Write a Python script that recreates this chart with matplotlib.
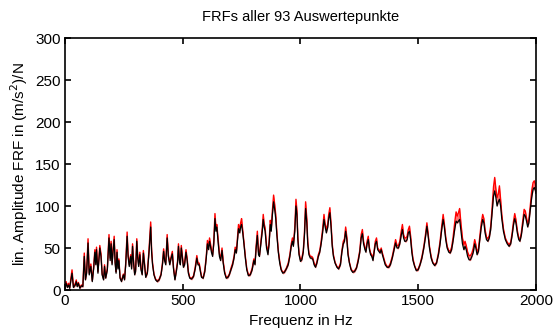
import numpy as np
import matplotlib
matplotlib.use("Agg")
import matplotlib.pyplot as plt

# Frequency points (Hz)
freq = [
    0, 5, 10, 15, 20, 30, 36, 44, 48, 52, 57, 63, 70, 76, 82, 87, 92, 98, 103, 110,
    116, 122, 127, 131, 134, 140, 148, 153, 158, 164, 168, 173, 180, 187, 192, 196, 200, 204, 209, 213,
    217, 221, 225, 229, 234, 240, 248, 253, 258, 264, 268, 273, 279, 283, 287, 292, 296, 300, 305, 309,
    313, 318, 323, 328, 333, 338, 343, 350, 357, 364, 368, 372, 378, 385, 392, 400, 408, 414, 419, 423,
    428, 434, 439, 445, 451, 456, 461, 467, 473, 478, 482, 486, 490, 494, 498, 503, 508, 514, 519, 524,
    530, 538, 546, 553, 560, 565, 570, 575, 580, 587, 594, 600, 605, 610, 614, 618, 622, 627, 632, 637,
    641, 645, 650, 656, 661, 667, 672, 678, 685, 692, 698, 705, 712, 718, 723, 728, 733, 737, 742, 746,
    750, 755, 760, 766, 772, 779, 787, 795, 802, 807, 812, 817, 822, 826, 832, 838, 842, 846, 850, 856,
    862, 867, 872, 876, 881, 886, 891, 895, 900, 906, 912, 918, 925, 932, 940, 948, 955, 961, 966, 970,
    976, 981, 985, 989, 994, 1000, 1006, 1012, 1017, 1022, 1027, 1031, 1036, 1042, 1048, 1053, 1058, 1064, 1070, 1076,
    1082, 1088, 1094, 1100, 1105, 1110, 1116, 1120, 1125, 1130, 1135, 1140, 1147, 1155, 1162, 1170, 1176, 1182, 1187, 1192,
    1197, 1202, 1208, 1215, 1222, 1230, 1238, 1245, 1252, 1258, 1263, 1268, 1274, 1278, 1283, 1288, 1293, 1298, 1303, 1308,
    1313, 1318, 1323, 1328, 1333, 1338, 1343, 1348, 1353, 1360, 1368, 1375, 1382, 1390, 1398, 1404, 1410, 1416, 1422, 1428,
    1433, 1438, 1443, 1448, 1453, 1458, 1463, 1468, 1473, 1478, 1485, 1492, 1500, 1508, 1516, 1524, 1531, 1537, 1542, 1548,
    1555, 1562, 1570, 1578, 1586, 1593, 1600, 1606, 1611, 1617, 1623, 1630, 1636, 1642, 1648, 1655, 1661, 1666, 1671, 1676,
    1682, 1688, 1694, 1699, 1704, 1710, 1716, 1722, 1728, 1734, 1740, 1745, 1750, 1756, 1762, 1768, 1774, 1779, 1784, 1790,
    1796, 1802, 1808, 1814, 1820, 1825, 1830, 1835, 1840, 1845, 1850, 1855, 1862, 1870, 1878, 1886, 1893, 1899, 1905, 1910,
    1915, 1921, 1927, 1932, 1938, 1944, 1950, 1955, 1960, 1965, 1970, 1976, 1982, 1988, 1993, 1998, 2000,
]

# black curve (lin. amplitude)
amp_black = [
    2, 8, 3, 6, 2, 20, 3, 6, 10, 4, 8, 2, 5, 4, 40, 12, 20, 56, 18, 28,
    10, 26, 45, 30, 48, 20, 50, 40, 18, 12, 28, 14, 24, 62, 35, 55, 30, 45, 60, 32,
    20, 45, 25, 35, 14, 10, 18, 12, 30, 64, 40, 28, 40, 25, 52, 30, 18, 22, 58, 38,
    28, 42, 24, 18, 44, 30, 15, 20, 45, 75, 45, 30, 18, 12, 10, 12, 18, 30, 46, 35,
    30, 62, 40, 30, 38, 43, 25, 12, 22, 32, 52, 35, 30, 50, 40, 27, 30, 45, 35, 20,
    14, 13, 16, 25, 38, 30, 30, 22, 15, 14, 22, 38, 55, 48, 58, 52, 45, 40, 55, 85,
    70, 75, 58, 40, 35, 47, 32, 20, 14, 15, 18, 24, 30, 38, 48, 44, 60, 73, 68, 75,
    78, 68, 55, 38, 24, 17, 18, 24, 35, 30, 50, 65, 42, 40, 55, 70, 84, 75, 70, 50,
    42, 55, 78, 70, 90, 105, 95, 85, 65, 45, 32, 24, 20, 21, 25, 30, 40, 52, 58, 52,
    70, 100, 90, 60, 42, 34, 36, 45, 65, 97, 80, 55, 42, 38, 38, 36, 30, 27, 32, 40,
    45, 55, 68, 84, 75, 68, 75, 85, 92, 75, 52, 40, 32, 27, 25, 30, 45, 55, 58, 70,
    60, 42, 32, 24, 21, 22, 26, 34, 45, 62, 67, 55, 48, 45, 55, 60, 48, 42, 40, 35,
    45, 55, 58, 48, 46, 44, 48, 42, 37, 30, 27, 27, 30, 38, 48, 56, 50, 50, 55, 65,
    72, 62, 58, 58, 60, 68, 70, 60, 45, 35, 28, 23, 24, 30, 38, 50, 63, 76, 65, 50,
    38, 32, 29, 32, 42, 55, 72, 84, 75, 60, 50, 45, 44, 48, 58, 72, 82, 80, 82, 84,
    70, 55, 48, 52, 48, 40, 36, 36, 40, 45, 55, 50, 42, 46, 60, 75, 84, 80, 68, 60,
    58, 62, 72, 92, 112, 118, 110, 100, 105, 108, 100, 85, 70, 60, 55, 52, 55, 65, 78, 85,
    80, 68, 60, 58, 65, 78, 90, 88, 82, 75, 80, 95, 110, 120, 122, 118, 115,
]

# upper envelope of the red curves
amp_red = [
    3, 10, 4, 8, 3, 24, 4, 8, 12, 5, 9, 3, 6, 5, 44, 13, 22, 61, 20, 31,
    11, 28, 48, 32, 51, 22, 53, 43, 19, 13, 30, 15, 26, 66, 38, 58, 32, 48, 64, 34,
    22, 48, 27, 37, 15, 11, 19, 13, 32, 69, 43, 30, 42, 27, 55, 32, 20, 24, 61, 40,
    30, 45, 26, 19, 47, 32, 16, 22, 48, 81, 48, 32, 19, 13, 11, 13, 19, 32, 49, 37,
    32, 66, 42, 32, 40, 46, 27, 13, 24, 34, 55, 37, 32, 53, 42, 29, 32, 48, 37, 22,
    15, 14, 17, 27, 41, 32, 32, 24, 16, 15, 24, 40, 59, 51, 62, 55, 48, 42, 58, 91,
    75, 78, 62, 43, 37, 50, 34, 22, 15, 16, 19, 26, 32, 40, 51, 46, 64, 78, 71, 80,
    85, 71, 58, 40, 26, 18, 19, 26, 37, 32, 53, 70, 45, 42, 58, 74, 90, 79, 74, 53,
    45, 58, 83, 74, 95, 113, 101, 90, 68, 47, 34, 25, 21, 22, 26, 32, 42, 55, 62, 55,
    74, 108, 95, 63, 44, 36, 38, 47, 68, 105, 85, 58, 44, 40, 40, 38, 32, 28, 34, 42,
    47, 58, 72, 90, 78, 72, 79, 90, 98, 79, 55, 42, 33, 28, 26, 32, 47, 58, 61, 75,
    63, 44, 33, 25, 22, 23, 27, 36, 47, 66, 72, 58, 50, 47, 58, 64, 50, 44, 42, 37,
    47, 58, 62, 50, 48, 46, 50, 44, 39, 32, 28, 28, 32, 40, 51, 60, 53, 53, 58, 70,
    78, 66, 62, 62, 64, 72, 76, 64, 48, 37, 29, 24, 25, 31, 40, 52, 66, 80, 68, 52,
    40, 33, 30, 33, 44, 58, 76, 90, 79, 63, 52, 47, 46, 51, 62, 80, 93, 88, 92, 97,
    78, 62, 54, 58, 53, 45, 41, 41, 44, 50, 60, 54, 45, 49, 64, 80, 90, 85, 72, 63,
    61, 65, 76, 98, 123, 134, 120, 110, 114, 124, 108, 90, 73, 62, 57, 54, 57, 68, 82, 91,
    84, 71, 62, 60, 68, 82, 96, 94, 86, 79, 84, 100, 118, 128, 130, 126, 122,
]

x_ticks = [0, 500, 1000, 1500, 2000]
y_ticks = [0, 50, 100, 150, 200, 250, 300]

plt.rcParams['font.family'] = ['Liberation Sans', 'DejaVu Sans']

fig = plt.figure(figsize=(5.6, 3.34), dpi=100)
ax = fig.add_axes([0.116, 0.1317, 0.841, 0.7545])

f = np.array(freq)
b = np.array(amp_black)
r = np.array(amp_red)

# red band of all curves, black curve on top
ax.fill_between(f, b - 1, r, color='#ff0000', linewidth=0, alpha=0.55)
ax.plot(f, r, color='#ff0000', linewidth=1.0)
ax.plot(f, b, color='black', linewidth=0.9)

ax.set_xlim(0, 2000)
ax.set_ylim(0, 300)
ax.set_xticks(x_ticks)
ax.set_yticks(y_ticks)
ax.tick_params(direction='in', length=4, width=1.2, top=True, right=True, labelsize=11, pad=3)
for s in ax.spines.values():
    s.set_linewidth(1.2)

ax.set_title('FRFs aller 93 Auswertepunkte', fontsize=10.5, pad=12)
ax.set_xlabel('Frequenz in Hz', fontsize=11, labelpad=4)
ax.set_ylabel('lin. Amplitude FRF in (m/s$^2$)/N', fontsize=11, labelpad=4)

fig.savefig('out.png', dpi=100)
